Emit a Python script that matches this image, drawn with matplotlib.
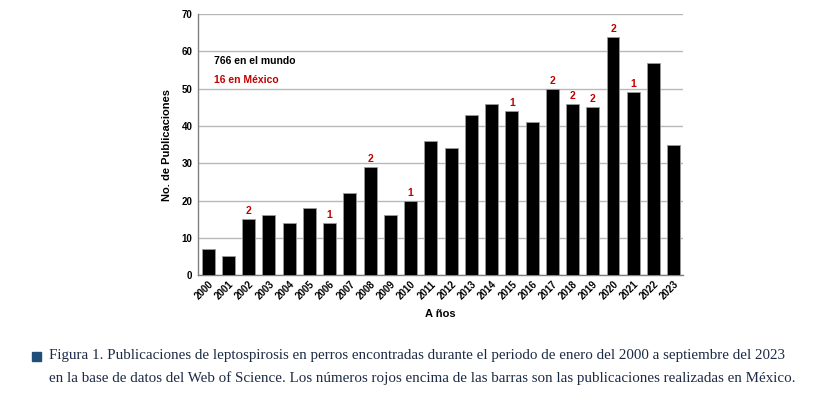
import matplotlib.pyplot as plt
from matplotlib.patches import Rectangle

# DATA
years = [str(y) for y in range(2000, 2024)]
mundo = [7, 5, 15, 16, 14, 18, 14, 22, 29, 16, 20, 36,
         34, 43, 46, 44, 41, 50, 46, 45, 64, 49, 57, 35]
mexico = [0, 0, 2, 0, 0, 0, 1, 0, 2, 0, 1, 0,
          0, 0, 0, 1, 0, 2, 2, 2, 2, 1, 0, 0]
yticks = [0, 10, 20, 30, 40, 50, 60, 70]
caption = ["Figura 1. Publicaciones de leptospirosis en perros encontradas durante el periodo de enero del 2000 a septiembre del 2023",
           "en la base de datos del Web of Science. Los números rojos encima de las barras son las publicaciones realizadas en México."]

RED = '#c00000'
GRID = '#b8b8b8'
plt.rcParams['font.family'] = ['Liberation Sans', 'DejaVu Sans']

fig = plt.figure(figsize=(8.26, 3.93), dpi=100)
ax = fig.add_axes([0.2397, 0.300, 0.587, 0.664])

x = list(range(len(years)))
ax.bar(x, mundo, width=0.64, color='black', edgecolor='#9a9a9a', linewidth=0.6, zorder=3)
for i, v in enumerate(mexico):
    if v > 0:
        ax.text(i, mundo[i] + 0.8, str(v), color=RED, fontsize=7.5, fontweight='bold',
                ha='center', va='bottom')

ax.set_xlim(-0.5, 23.45)
ax.set_ylim(0, 70)
ax.set_yticks(yticks)
ax.set_yticklabels([str(t) for t in yticks], fontsize=7, fontweight='bold')
ax.set_xticks(x)
ax.set_xticklabels(years, rotation=45, ha='right', rotation_mode='anchor',
                   fontsize=7, fontweight='bold')
ax.tick_params(axis='both', length=0, pad=4)
ax.tick_params(axis='x', pad=3)
ax.yaxis.grid(True, color=GRID, linewidth=1.0, zorder=0)
ax.set_axisbelow(True)
for s in ['top', 'right']:
    ax.spines[s].set_visible(False)
for s in ['left', 'bottom']:
    ax.spines[s].set_color('#808080')
    ax.spines[s].set_linewidth(1.0)

ax.set_ylabel('No. de Publicaciones', fontsize=8, fontweight='bold', labelpad=7)
ax.set_xlabel('A ños', fontsize=8, fontweight='bold', labelpad=5)

ax.text(0.3, 57.3, '766 en el mundo', fontsize=7.5, fontweight='bold', color='black', va='center')
ax.text(0.3, 52.3, '16 en México', fontsize=7.5, fontweight='bold', color=RED, va='center')

# caption
fig.patches.append(Rectangle((32 / 826, 1 - 361 / 393), 9 / 826, 9 / 393,
                             transform=fig.transFigure, color='#1f4e79', figure=fig))
for k, line in enumerate(caption):
    fig.text(49 / 826, 1 - (356 + 22 * k) / 393, line, fontsize=10.85,
             family=['Liberation Serif', 'DejaVu Serif'], color='#1c2a44', va='center')

fig.savefig('out.png', dpi=100)
